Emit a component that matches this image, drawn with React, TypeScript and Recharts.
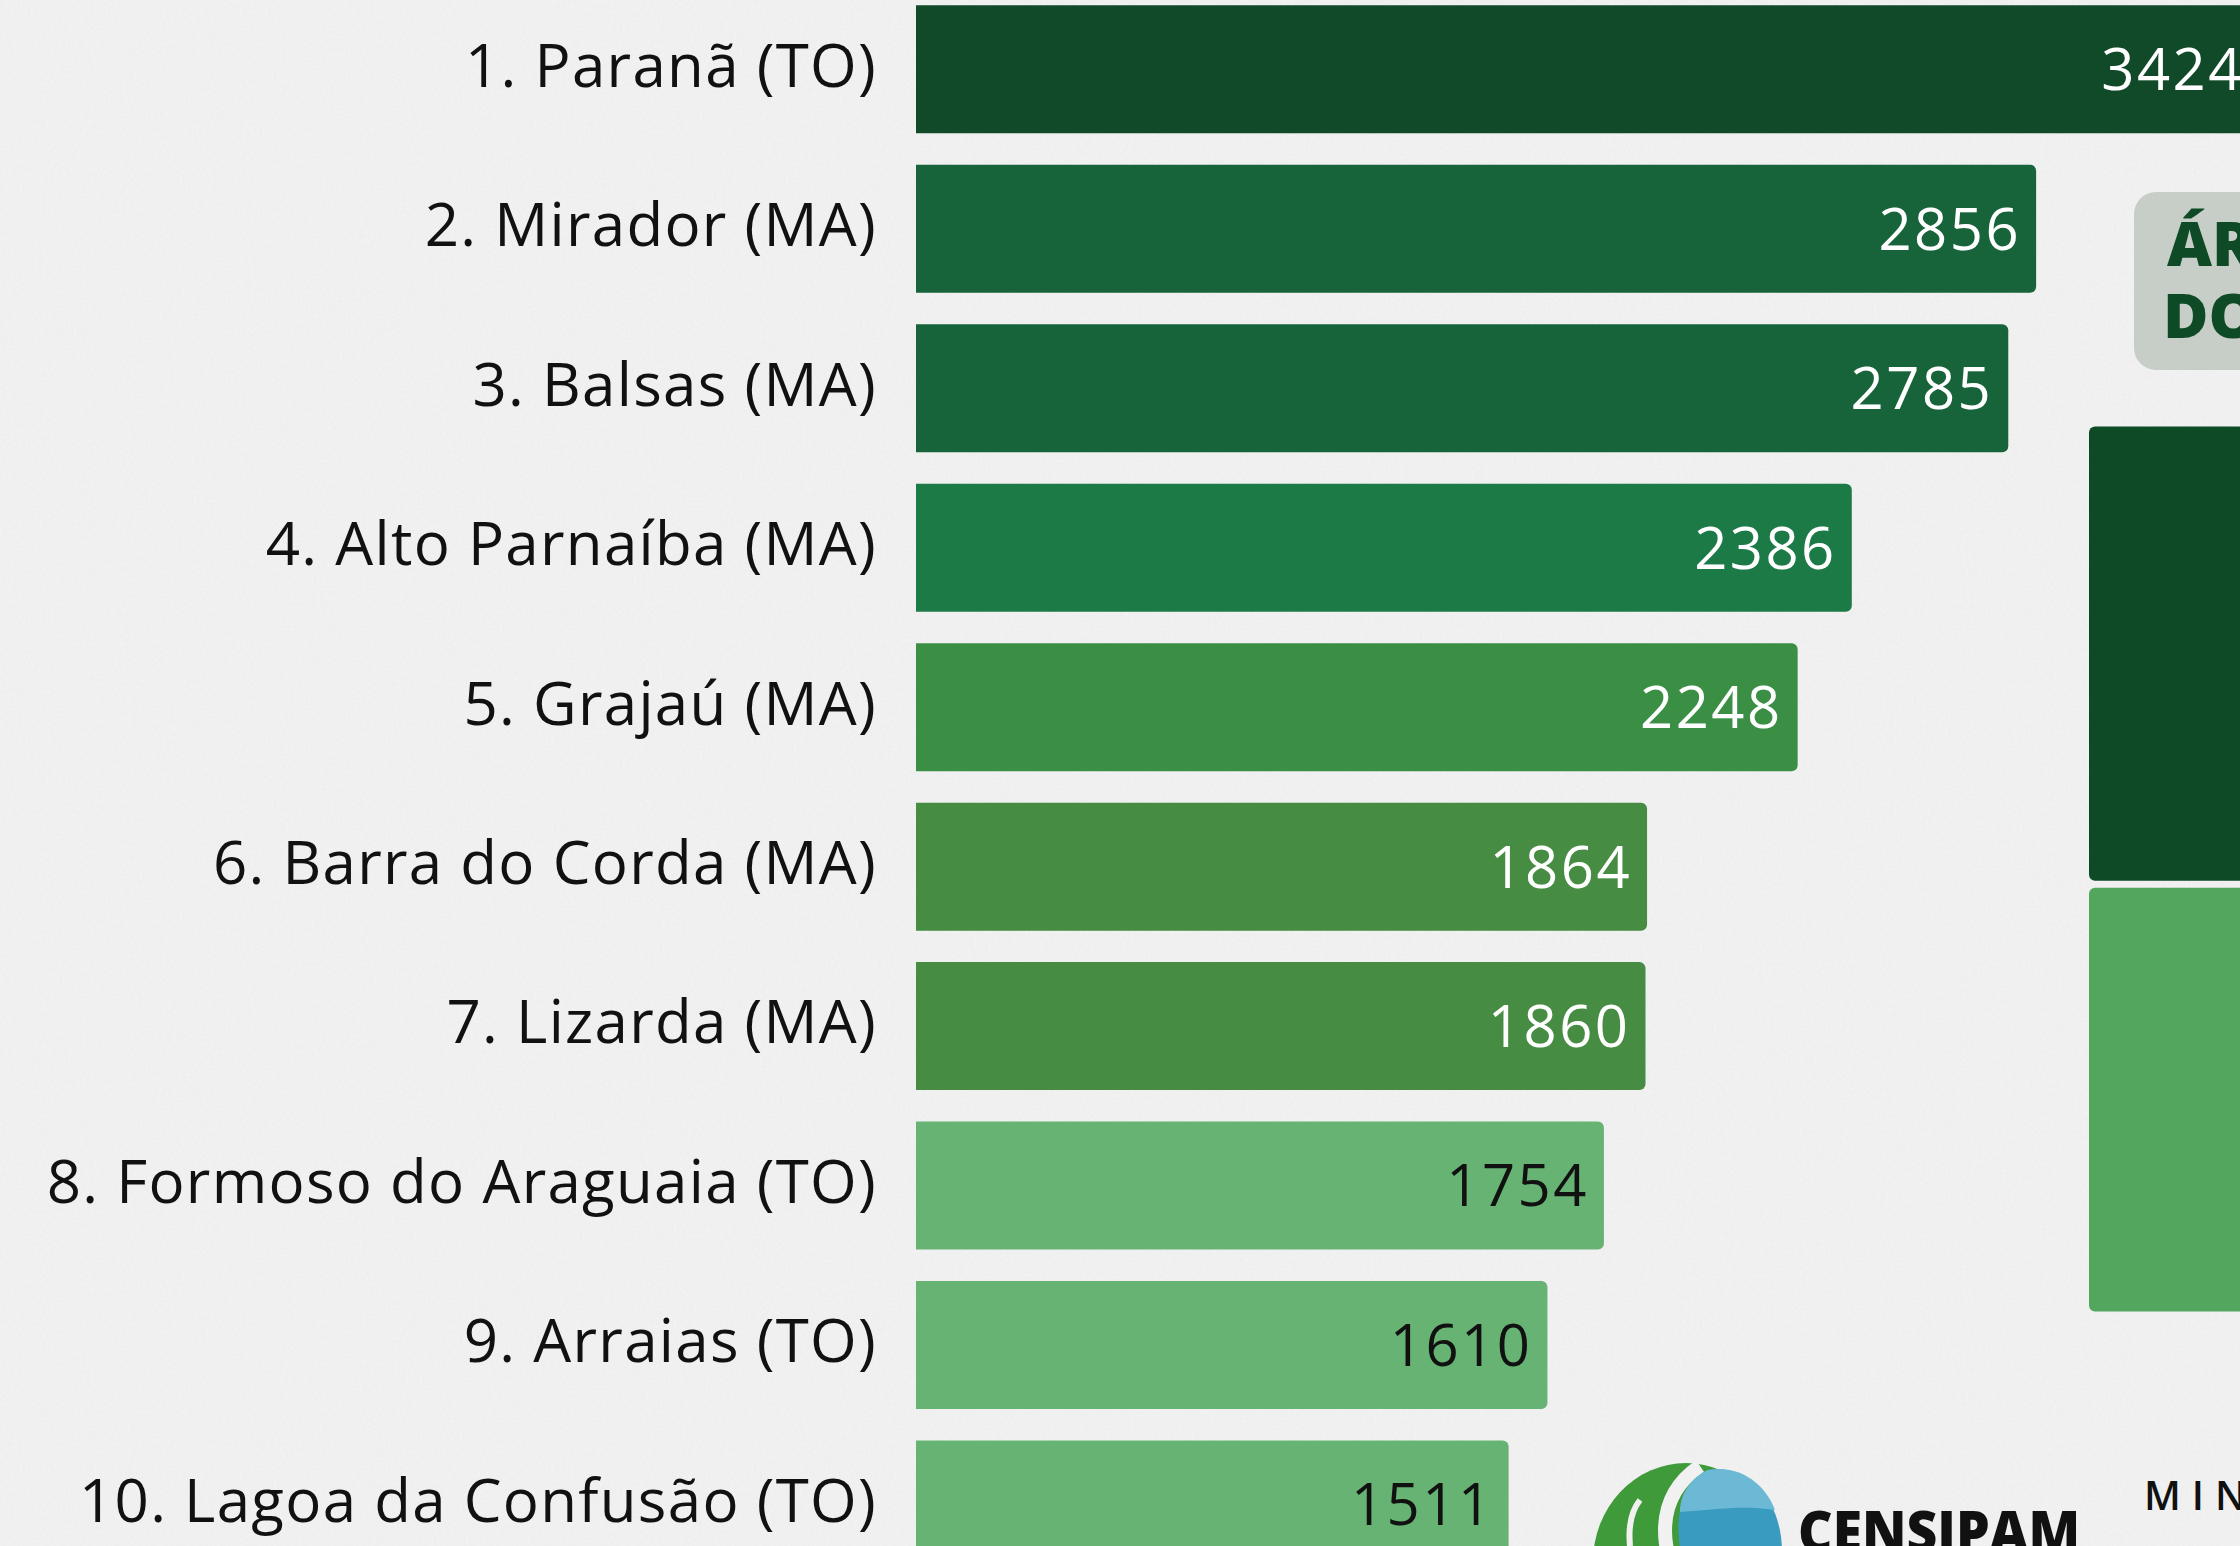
import { Bar, BarChart, Cell, XAxis, YAxis } from "recharts";

const municipios = [
  "1. Paranã (TO)",
  "2. Mirador (MA)",
  "3. Balsas (MA)",
  "4. Alto Parnaíba (MA)",
  "5. Grajaú (MA)",
  "6. Barra do Corda (MA)",
  "7. Lizarda (MA)",
  "8. Formoso do Araguaia (TO)",
  "9. Arraias (TO)",
  "10. Lagoa da Confusão (TO)",
];
const focos = [3424, 2856, 2785, 2386, 2248, 1864, 1860, 1754, 1610, 1511];
const cores = [
  "#114a28",
  "#17643a",
  "#17643a",
  "#1b7a45",
  "#3b8f45",
  "#468c42",
  "#468c42",
  "#66b373",
  "#66b373",
  "#66b373",
];
const coresTexto = ["#fff", "#fff", "#fff", "#fff", "#fff", "#fff", "#fff", "#111", "#111", "#111"];

// coluna empilhada à direita (cortada na imagem)
const colunaRotulos = ["total"];
const colunaEscura = [51.7];
const colunaClara = [48.3];

const FONTE = "'Open Sans', sans-serif";

const dados = municipios.map((m, i) => ({ nome: m, valor: focos[i] }));
const dadosColuna = colunaRotulos.map((n, i) => ({ nome: n, escura: colunaEscura[i], clara: colunaClara[i] }));

function TickMunicipio(props: any) {
  const { x, y, payload } = props;
  return (
    <text
      x={x}
      y={y - 4}
      dy="0.36em"
      textAnchor="end"
      fill="#111"
      fontFamily={FONTE}
      fontSize={60}
      style={{ letterSpacing: "1.3px" }}
    >
      {payload.value}
    </text>
  );
}

function RotuloValor(props: any) {
  const { x, y, width, height, value, index } = props;
  const i = typeof index === "number" ? index : focos.indexOf(value);
  return (
    <text
      x={x + width - 15}
      y={y + height / 2}
      dy="0.36em"
      textAnchor="end"
      fill={coresTexto[i] ?? "#fff"}
      fontFamily={FONTE}
      fontSize={58}
      style={{ letterSpacing: "2.5px" }}
    >
      {value}
    </text>
  );
}

function SegmentoColuna(props: any) {
  const { x, y, width, height, fill } = props;
  return <rect x={x} y={y + 3.5} width={width} height={Math.max(0, height - 7)} rx={6} fill={fill} />;
}

export default function App() {
  return (
    <div
      style={{
        position: "absolute",
        left: 0,
        top: 0,
        width: 2240,
        height: 1546,
        overflow: "hidden",
        background: "#f1f1f1",
      }}
    >
      <svg style={{ position: "absolute", left: 0, top: 0 }} width={2240} height={1546}>
        <filter id="grao">
          <feTurbulence type="fractalNoise" baseFrequency="0.35" numOctaves={2} seed={4} />
          <feColorMatrix type="matrix" values="0 0 0 0 1  0 0 0 0 1  0 0 0 0 1  0 0 0 0.9 -0.35" />
        </filter>
        <rect width={2240} height={1546} fill="#efefef" />
        <rect width={2240} height={1546} filter="url(#grao)" opacity={0.5} />
      </svg>

      <div style={{ position: "absolute", left: 0, top: -20 }}>
        <BarChart
          width={2400}
          height={1604}
          data={dados}
          layout="vertical"
          margin={{ top: 9.3, right: 111.3, left: 0, bottom: 0 }}
        >
          <XAxis type="number" domain={[0, 3500]} hide />
          <YAxis
            type="category"
            dataKey="nome"
            width={916}
            axisLine={false}
            tickLine={false}
            tickSize={0}
            tickMargin={39}
            tick={<TickMunicipio />}
            interval={0}
          />
          <Bar dataKey="valor" barSize={128} radius={[0, 6, 6, 0]} isAnimationActive={false} label={<RotuloValor />}>
            {dados.map((d, i) => (
              <Cell key={d.nome} fill={cores[i]} />
            ))}
          </Bar>
        </BarChart>
      </div>

      <div style={{ position: "absolute", left: 2089, top: 422.5 }}>
        <BarChart
          width={320}
          height={892}
          data={dadosColuna}
          margin={{ top: 0, right: 0, left: 0, bottom: 0 }}
          barCategoryGap={0}
        >
          <XAxis dataKey="nome" hide />
          <YAxis hide domain={[0, 100]} />
          <Bar dataKey="clara" stackId="c" fill="#52a65e" shape={<SegmentoColuna />} isAnimationActive={false} />
          <Bar dataKey="escura" stackId="c" fill="#0f4a26" shape={<SegmentoColuna />} isAnimationActive={false} />
        </BarChart>
      </div>

      <div
        style={{
          position: "absolute",
          left: 2134,
          top: 192,
          width: 300,
          height: 178,
          borderRadius: 22,
          background: "#c6cec7",
          fontFamily: "'Open Sans', sans-serif",
          fontWeight: 800,
          fontSize: 62,
          color: "#0f4a26",
          lineHeight: "72px",
          paddingLeft: 33,
          paddingTop: 14,
          boxSizing: "border-box",
        }}
      >
        <div>ÁR</div>
        <div style={{ marginLeft: -4 }}>DO</div>
      </div>

      <svg style={{ position: "absolute", left: 0, top: 0 }} width={2240} height={1546}>
        <ellipse cx={1686} cy={1562} rx={93} ry={99} fill="#3f9a3a" />
        <path d="M1700 1466 C1650 1500 1660 1560 1690 1600" stroke="#f1f1f1" strokeWidth={14} fill="none" />
        <path d="M1708 1470 C1760 1462 1790 1520 1780 1570 L1700 1600 C1670 1550 1670 1490 1708 1470 Z" fill="#3a9bc0" />
        <path d="M1708 1470 C1745 1464 1768 1490 1775 1510 C1740 1505 1715 1510 1680 1512 C1680 1495 1690 1478 1708 1470 Z" fill="#6cb9d6" />
        <path d="M1630 1546 C1628 1525 1632 1510 1640 1500" stroke="#f1f1f1" strokeWidth={6} fill="none" />
        <text
          x={1798}
          y={1552}
          fontFamily="'Open Sans', sans-serif"
          fontWeight={800}
          fontSize={56}
          fill="#111"
          textLength={282}
          lengthAdjust="spacingAndGlyphs"
        >
          CENSIPAM
        </text>
        <text x={2144} y={1510} fontFamily="'Open Sans', sans-serif" fontWeight={600} fontSize={40} fill="#111" style={{ letterSpacing: "11px" }}>
          MIN
        </text>
      </svg>
    </div>
  );
}
